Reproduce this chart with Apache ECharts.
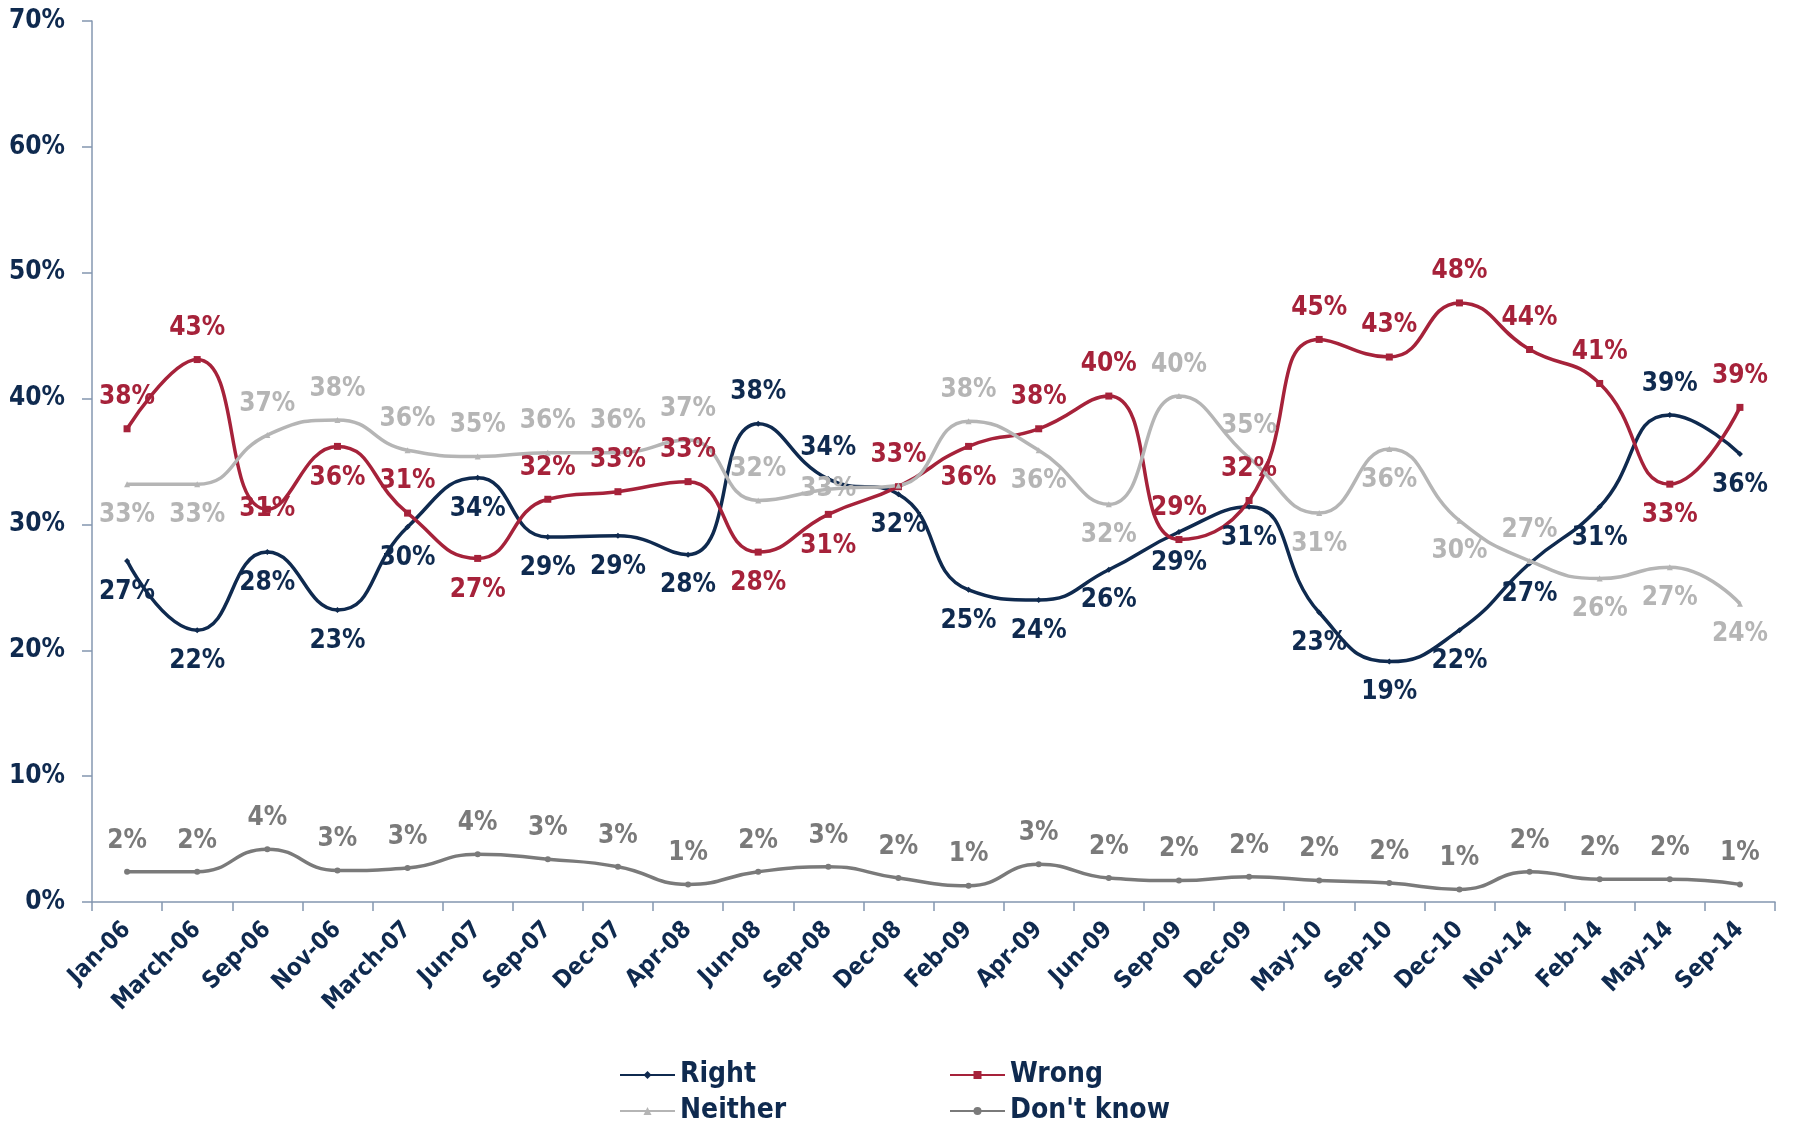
<!DOCTYPE html>
<html lang="en">
<head>
    <meta charset="UTF-8">
    <title>Right / Wrong direction</title>
    <script src="https://cdn.jsdelivr.net/npm/echarts@6/dist/echarts.min.js"></script>
    <style>
        html, body { margin: 0; padding: 0; background: #fff; }
        #app { width: 1795px; height: 1123px; }
    </style>
</head>
<body>
    <div id="app"></div>
    <script>
        let months = ['Jan-06', 'March-06', 'Sep-06', 'Nov-06', 'March-07', 'Jun-07', 'Sep-07', 'Dec-07',
            'Apr-08', 'Jun-08', 'Sep-08', 'Dec-08', 'Feb-09', 'Apr-09', 'Jun-09', 'Sep-09', 'Dec-09',
            'May-10', 'Sep-10', 'Dec-10', 'Nov-14', 'Feb-14', 'May-14', 'Sep-14']

        let right = [27.1, 21.6, 27.8, 23.2, 29.8, 33.7, 29.0, 29.1, 27.6, 38.0, 33.6, 32.4,
            24.8, 24.0, 26.4, 29.4, 31.4, 23.0, 19.1, 21.6, 26.9, 31.4, 38.7, 35.6]
        let wrong = [37.6, 43.1, 31.2, 36.2, 30.9, 27.3, 32.0, 32.6, 33.4, 27.8, 30.8, 33.0,
            36.2, 37.6, 40.2, 28.8, 31.9, 44.7, 43.3, 47.6, 43.9, 41.2, 33.2, 39.3]
        let neither = [33.2, 33.2, 37.1, 38.3, 35.9, 35.4, 35.7, 35.7, 36.7, 31.9, 32.8, 33.1,
            38.2, 35.9, 31.6, 40.2, 35.3, 30.9, 36.0, 30.3, 27.1, 25.7, 26.6, 23.7]
        let dontKnow = [2.4, 2.4, 4.2, 2.5, 2.7, 3.8, 3.4, 2.8, 1.4, 2.4, 2.8, 1.9,
            1.3, 3.0, 1.9, 1.7, 2.0, 1.7, 1.5, 1.0, 2.4, 1.8, 1.8, 1.4]

        // where each data label sits: t = above, b = below, c = on the point, n = hidden
        let rightPos = 'bbbbbbbbbttbbbbbbbbbbbtb'.split('')
        let wrongPos = 'ttcbtbtttbbtbtttttttttbt'.split('')
        let neitherPos = 'bbttttttttcntbbttbbbtbbb'.split('')
        let dontKnowPos = 'tttttttttttttttttttttttt'.split('')

        let navy = '#0f2a4f'
        let font = '"DejaVu Sans Condensed", "DejaVu Sans", sans-serif'

        function points(values, pos) {
            return values.map((v, i) => {
                let p = pos[i]
                let label = {}
                if (p === 'n') label.show = false
                else label.position = p === 't' ? 'top' : p === 'b' ? 'bottom' : 'inside'
                return { value: v, label: label }
            })
        }

        function line(name, values, pos, color, symbol, size) {
            return {
                name: name,
                type: 'line',
                smooth: 0.5,
                data: points(values, pos),
                symbol: symbol,
                symbolSize: size,
                lineStyle: { width: 3.5, color: color },
                itemStyle: { color: color },
                label: {
                    show: true,
                    distance: 15,
                    color: color,
                    fontFamily: font,
                    fontWeight: 'bold',
                    fontSize: 26,
                    formatter: p => Math.round(p.value) + '%'
                }
            }
        }

        function legendAt(name, left, top) {
            return {
                data: [name],
                left: left,
                top: top,
                itemWidth: 55,
                itemHeight: 10,
                itemGap: 4,
                textStyle: { color: navy, fontFamily: font, fontWeight: 'bold', fontSize: 28 }
            }
        }

        let mCharts = echarts.init(document.getElementById('app'))
        let option = {
            animation: false,
            backgroundColor: '#fff',
            grid: { left: 92, right: 20, top: 21, bottom: 221 },
            legend: [
                legendAt('Right', 614, 1056),
                legendAt('Wrong', 944, 1056),
                legendAt('Neither', 614, 1092),
                legendAt("Don't know", 944, 1092)
            ],
            xAxis: {
                type: 'category',
                data: months,
                boundaryGap: true,
                axisLine: { lineStyle: { color: '#8497b0', width: 1.5 } },
                axisTick: { show: true, length: 9, lineStyle: { color: '#8497b0', width: 1.5 } },
                axisLabel: {
                    interval: 0,
                    rotate: 45,
                    margin: 24,
                    color: navy,
                    fontFamily: font,
                    fontWeight: 'bold',
                    fontSize: 24
                }
            },
            yAxis: {
                type: 'value',
                min: 0,
                max: 70,
                interval: 10,
                splitLine: { show: false },
                axisLine: { show: true, lineStyle: { color: '#8497b0', width: 1.5 } },
                axisTick: { show: true, length: 10, lineStyle: { color: '#8497b0', width: 1.5 } },
                axisLabel: {
                    formatter: '{value}%',
                    margin: 27,
                    color: navy,
                    fontFamily: font,
                    fontWeight: 'bold',
                    fontSize: 26
                }
            },
            series: [
                line('Right', right, rightPos, '#0f2a4f', 'diamond', 6),
                line('Wrong', wrong, wrongPos, '#a6223a', 'rect', 7),
                line('Neither', neither, neitherPos, '#b5b5b5', 'triangle', 6),
                line("Don't know", dontKnow, dontKnowPos, '#7a7a7a', 'circle', 6)
            ]
        }
        mCharts.setOption(option)
    </script>
</body>
</html>
